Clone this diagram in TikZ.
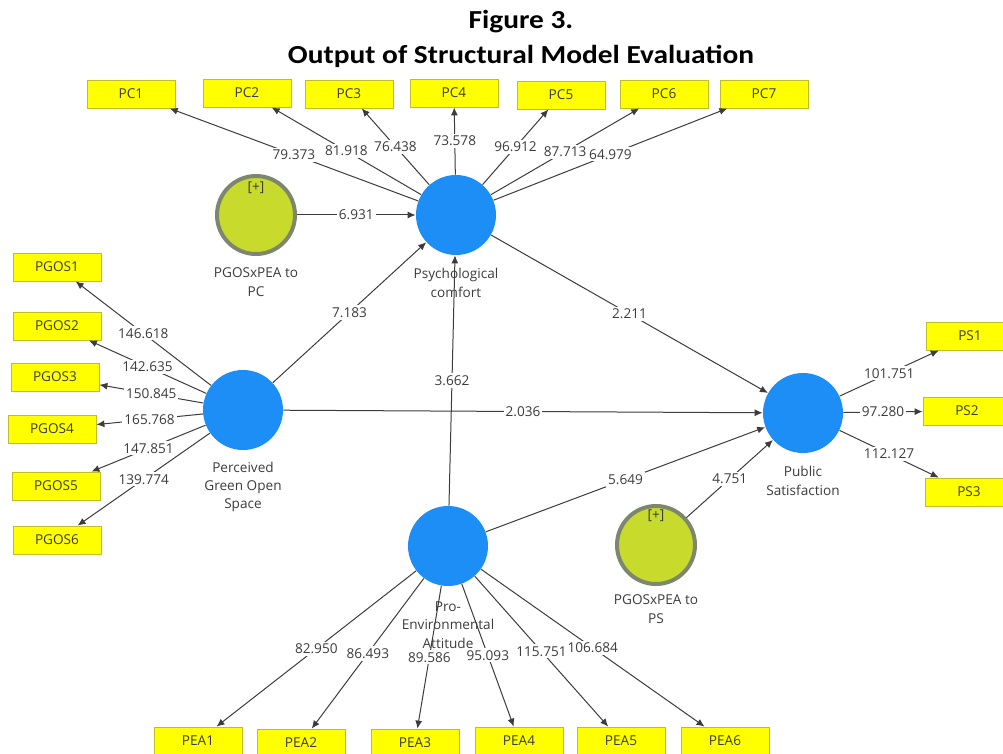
\documentclass[tikz,border=0pt]{standalone}
\usepackage{fontspec}
\setmainfont{Open Sans}
\newfontfamily\ttlfont{Carlito}
\usepackage{xcolor}
\usepackage{graphicx}
\usetikzlibrary{arrows.meta}
\definecolor{lvblue}{RGB}{28,142,245}
\definecolor{modgreen}{RGB}{200,219,45}
\definecolor{modrim}{RGB}{125,135,110}
\definecolor{mvyellow}{RGB}{255,255,0}
\definecolor{mvrim}{RGB}{190,190,40}
\definecolor{ink}{RGB}{60,60,60}
\newcommand\plsfont{\fontsize{6.8}{9.2}\selectfont}
\newcommand\ttltext[1]{\scalebox{1.13}[1]{#1}}
\tikzset{
  lv/.style   ={circle,fill=lvblue,minimum size=40pt,inner sep=0pt},
  modr/.style ={circle,fill=modgreen,draw=modrim,line width=2pt,minimum size=39pt,inner sep=0pt},
  mv/.style   ={rectangle,fill=mvyellow,draw=mvrim,line width=0.4pt,minimum width=44pt,minimum height=14pt,inner sep=0pt,font=\plsfont,text=ink},
  lvcap/.style={align=center,font=\plsfont,text=ink,inner sep=0pt},
  coef/.style ={fill=white,inner sep=1pt,font=\plsfont,text=ink},
  arr/.style  ={draw=ink,line width=0.5pt,-{Latex[length=4pt,width=3.5pt]}},
  ttl/.style  ={font=\ttlfont\bfseries\fontsize{13}{15}\selectfont,text=black,anchor=base,inner sep=0pt},
}

\begin{document}
\begin{tikzpicture}[x=0.5pt,y=-0.5pt]
  \clip (0,0) rectangle (1003,754);
  \node[ttl](ttl1) at (521,29){\ttltext{Figure 3.}};  \node[ttl](ttl2) at (521,64){\ttltext{Output of Structural Model Evaluation}};
  % latent variables and moderators
  \node[lv](pc) at (456,215){};    \node[modr](modpc) at (256,215){};  \node[lv](pgos) at (243,410){};
  \node[lv](pea) at (448,546){};   \node[lv](ps) at (803,413){};       \node[modr](modps) at (656,545){};
  \node[lvcap](pccap) at (456,283){Psychological\\comfort};  \node[lvcap](modpccap) at (256,282){PGOSxPEA to\\PC};
  \node[lvcap](pgoscap) at (243,487){Perceived\\Green Open\\Space};  \node[lvcap](peacap) at (448,625){Pro-\\Environmental\\Attitude};
  \node[lvcap](pscap) at (803,481){Public\\Satisfaction};  \node[lvcap](modpscap) at (656,609){PGOSxPEA to\\PS};
  \node[lvcap](modpcplus) at (256,188){[+]};  \node[lvcap](modpsplus) at (656,516){[+]};
  % indicators
  \node[mv](pc1) at (131,94){PC1};  \node[mv](pc2) at (247,93){PC2};  \node[mv](pc3) at (349,94){PC3};  \node[mv](pc4) at (454,93){PC4};
  \node[mv](pc5) at (561,95){PC5};  \node[mv](pc6) at (664,94){PC6};  \node[mv](pc7) at (764,94){PC7};
  \node[mv](pgos1) at (57,267){PGOS1};  \node[mv](pgos2) at (57,326){PGOS2};  \node[mv](pgos3) at (55,377){PGOS3};
  \node[mv](pgos4) at (52,429){PGOS4};  \node[mv](pgos5) at (56,486){PGOS5};  \node[mv](pgos6) at (57,540){PGOS6};
  \node[mv](pea1) at (198,741){PEA1};  \node[mv](pea2) at (301,743){PEA2};  \node[mv](pea3) at (415,743){PEA3};
  \node[mv](pea4) at (519,741){PEA4};  \node[mv](pea5) at (621,741){PEA5};  \node[mv](pea6) at (725,741){PEA6};
  \node[mv](ps1) at (970,336){PS1};  \node[mv](ps2) at (967,411){PS2};  \node[mv](ps3) at (969,492){PS3};
  % outer loadings
  \foreach \i/\v in {1/79.373,2/81.918,3/76.438,4/73.578,5/96.912,6/87.713,7/64.979}{\draw[arr](pc)--node[coef]{\v}(pc\i);}
  \foreach \i/\v in {1/146.618,2/142.635,3/150.845,4/165.768,5/147.851,6/139.774}{\draw[arr](pgos)--node[coef]{\v}(pgos\i);}
  \foreach \i/\v in {1/82.950,2/86.493,3/89.586,4/95.093,5/115.751,6/106.684}{\draw[arr](pea)--node[coef]{\v}(pea\i);}
  \foreach \i/\v in {1/101.751,2/97.280,3/112.127}{\draw[arr](ps)--node[coef]{\v}(ps\i);}
  % inner model
  \draw[arr](modpc)--node[coef]{6.931}(pc);  \draw[arr](pgos)--node[coef]{7.183}(pc);  \draw[arr](pea)--node[coef]{3.662}(pc);
  \draw[arr](pc)--node[coef]{2.211}(ps);  \draw[arr](pgos)--node[coef]{2.036}(ps);  \draw[arr](pea)--node[coef]{5.649}(ps);
  \draw[arr](modps)--node[coef]{4.751}(ps);
\end{tikzpicture}
\end{document}
